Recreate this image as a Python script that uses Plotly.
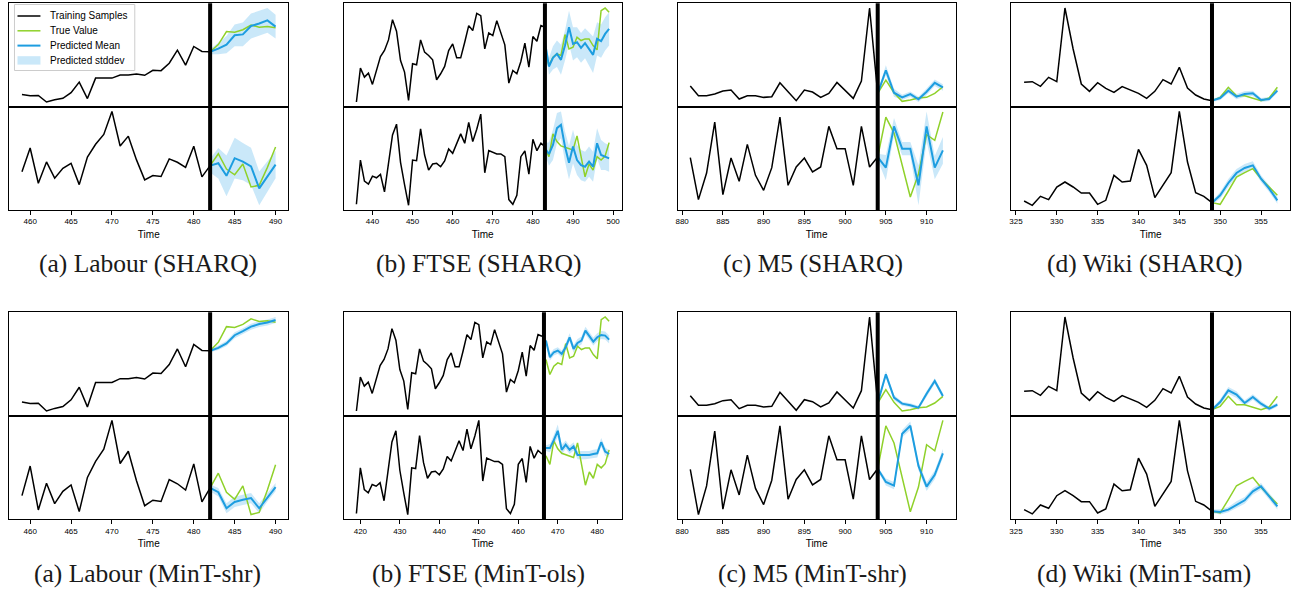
import plotly.graph_objects as go

# ---------------- data (arbitrary units) ----------------
# Labour
lab_t_train = list(range(459, 483))
lab_t_fc = list(range(482, 491))
lab_split = 482
lab_train_top = [49,45,46,25,32,37,55,89,36,102,102,102,112,112,115,111,127,126,150,192,144,204,188,187]
lab_train_bot = [127,197,93,156,108,137,152,89,170,208,237,305,203,232,162,103,116,113,165,155,140,202,112,145]
lab_true_top = [187,210,252,250,258,273,266,268,264]
lab_true_bot = [145,180,135,118,150,82,87,140,200]
lab_sharq_mean_top = [187,197,210,240,243,270,278,288,268]
lab_sharq_std_top = [8,18,28,35,38,40,40,40,38]
lab_sharq_mean_bot = [145,152,115,167,157,143,78,113,148]
lab_sharq_std_bot = [20,45,60,60,55,55,50,45,40]
lab_mint_mean_top = [187,195,207,229,240,252,259,263,270]
lab_mint_std_top = [4,6,7,8,8,8,8,8,8]
lab_mint_mean_bot = [145,135,97,112,117,121,97,123,147]
lab_mint_std_bot = [8,10,12,12,12,12,12,10,10]

# FTSE
ftse_sharq_t_train = list(range(436, 484))
ftse_sharq_t_fc = list(range(483, 500))
ftse_sharq_split = 483
ftse_mint_t_train = list(range(419, 467))
ftse_mint_t_fc = list(range(467, 484))
ftse_mint_split = 466.5
ftse_train_top = [25,127,100,112,78,117,162,180,212,273,238,150,115,30,140,137,212,175,165,152,
                  92,110,132,180,200,158,158,205,255,240,292,285,185,233,225,270,230,197,82,120,
                  110,147,202,130,222,208,255,250]
ftse_train_bot = [28,160,97,88,112,107,117,65,150,235,267,153,87,25,160,158,253,175,130,148,
                  150,140,157,193,180,210,238,210,272,215,252,297,122,188,183,178,178,170,42,28,
                  55,170,187,118,222,188,210,200]
ftse_true_top = [180,135,160,170,165,228,185,190,220,210,215,215,195,182,300,308,295]
ftse_true_bot = [195,170,238,215,202,198,195,190,232,170,110,148,130,170,160,172,212]
ftse_sharq_mean_top = [205,132,158,170,152,195,250,200,205,188,202,185,167,215,208,230,245]
ftse_sharq_std_top = [10,25,35,40,45,45,50,50,45,45,45,50,55,50,50,50,50]
ftse_sharq_mean_bot = [195,178,205,255,265,200,152,200,160,145,140,155,140,210,175,170,165]
ftse_sharq_std_bot = [15,35,45,45,40,45,50,50,45,45,45,45,45,45,45,40,40]
ftse_mint_mean_top = [237,187,202,207,197,217,247,212,230,237,267,250,234,247,254,252,240]
ftse_mint_std_top = [5,10,10,10,10,12,12,12,12,12,12,12,12,12,12,12,12]
ftse_mint_mean_bot = [217,217,240,267,212,227,212,222,197,197,197,197,200,202,234,207,200]
ftse_mint_std_bot = [8,12,15,18,15,12,12,12,12,12,12,12,12,12,12,12,10]

# M5
m5_t_train = list(range(881, 905))
m5_t_fc = list(range(904, 913))
m5_split = 904
m5_train_top = [72,43,43,48,57,60,33,43,43,38,40,82,55,28,60,54,38,50,83,60,35,87,308,50]
m5_train_bot = [168,42,122,275,57,167,97,208,115,70,138,290,85,140,167,125,140,262,195,195,85,262,140,170]
m5_true_top = [50,90,52,26,30,36,38,50,70]
m5_true_bot = [170,290,242,150,50,119,237,220,305]
m5_sharq_mean_top = [50,120,52,38,48,32,55,82,68]
m5_sharq_std_top = [5,15,12,8,8,8,10,10,10]
m5_sharq_mean_bot = [170,138,262,195,195,85,262,138,190]
m5_sharq_std_bot = [10,38,25,20,20,60,45,35,40]
m5_mint_mean_top = [50,136,66,48,43,36,78,116,71]
m5_mint_std_top = [5,10,8,6,6,6,8,8,8]
m5_mint_mean_bot = [170,133,123,268,290,178,120,153,213]
m5_mint_std_bot = [5,10,10,10,12,12,12,12,12]

# Wiki
wiki_t_train = list(range(326, 350))
wiki_t_fc = list(range(349, 358))
wiki_split = 349
wiki_train_top = [85,87,73,100,87,308,185,80,58,84,67,55,72,62,52,37,58,93,80,130,68,47,35,30]
wiki_train_bot = [38,25,52,42,80,95,80,62,62,28,40,115,95,98,193,145,48,87,123,307,155,63,52,33]
wiki_true_top = [30,40,70,45,45,38,30,38,70]
wiki_true_bot = [33,28,68,110,123,135,105,80,55]
wiki_sharq_mean_top = [30,38,60,42,50,52,32,35,60]
wiki_sharq_std_top = [4,6,8,8,8,8,6,6,6]
wiki_sharq_mean_bot = [33,55,92,122,137,145,105,75,40]
wiki_sharq_std_bot = [5,10,12,12,12,12,10,10,10]
wiki_mint_mean_top = [30,53,88,75,50,68,48,33,45]
wiki_mint_std_top = [4,8,10,10,8,8,8,6,6]
wiki_mint_mean_bot = [33,31,38,53,66,93,108,78,48]
wiki_mint_std_bot = [5,8,8,10,10,10,10,10,10]

captions = ["(a) Labour (SHARQ)", "(b) FTSE (SHARQ)", "(c) M5 (SHARQ)", "(d) Wiki (SHARQ)",
            "(a) Labour (MinT-shr)", "(b) FTSE (MinT-ols)", "(c) M5 (MinT-shr)", "(d) Wiki (MinT-sam)"]
legend_labels = ["Training Samples", "True Value", "Predicted Mean", "Predicted stddev"]
tick_steps = [5, 10, 5, 5]

# ---------------- panel assembly ----------------
panels = [
    dict(tt=lab_t_train, tf=lab_t_fc, split=lab_split,
         tr=(lab_train_top, lab_train_bot), tv=(lab_true_top, lab_true_bot),
         mu=(lab_sharq_mean_top, lab_sharq_mean_bot), sd=(lab_sharq_std_top, lab_sharq_std_bot)),
    dict(tt=ftse_sharq_t_train, tf=ftse_sharq_t_fc, split=ftse_sharq_split,
         tr=(ftse_train_top, ftse_train_bot), tv=(ftse_true_top, ftse_true_bot),
         mu=(ftse_sharq_mean_top, ftse_sharq_mean_bot), sd=(ftse_sharq_std_top, ftse_sharq_std_bot)),
    dict(tt=m5_t_train, tf=m5_t_fc, split=m5_split,
         tr=(m5_train_top, m5_train_bot), tv=(m5_true_top, m5_true_bot),
         mu=(m5_sharq_mean_top, m5_sharq_mean_bot), sd=(m5_sharq_std_top, m5_sharq_std_bot)),
    dict(tt=wiki_t_train, tf=wiki_t_fc, split=wiki_split,
         tr=(wiki_train_top, wiki_train_bot), tv=(wiki_true_top, wiki_true_bot),
         mu=(wiki_sharq_mean_top, wiki_sharq_mean_bot), sd=(wiki_sharq_std_top, wiki_sharq_std_bot)),
    dict(tt=lab_t_train, tf=lab_t_fc, split=lab_split,
         tr=(lab_train_top, lab_train_bot), tv=(lab_true_top, lab_true_bot),
         mu=(lab_mint_mean_top, lab_mint_mean_bot), sd=(lab_mint_std_top, lab_mint_std_bot)),
    dict(tt=ftse_mint_t_train, tf=ftse_mint_t_fc, split=ftse_mint_split,
         tr=(ftse_train_top, ftse_train_bot), tv=(ftse_true_top, ftse_true_bot),
         mu=(ftse_mint_mean_top, ftse_mint_mean_bot), sd=(ftse_mint_std_top, ftse_mint_std_bot)),
    dict(tt=m5_t_train, tf=m5_t_fc, split=m5_split,
         tr=(m5_train_top, m5_train_bot), tv=(m5_true_top, m5_true_bot),
         mu=(m5_mint_mean_top, m5_mint_mean_bot), sd=(m5_mint_std_top, m5_mint_std_bot)),
    dict(tt=wiki_t_train, tf=wiki_t_fc, split=wiki_split,
         tr=(wiki_train_top, wiki_train_bot), tv=(wiki_true_top, wiki_true_bot),
         mu=(wiki_mint_mean_top, wiki_mint_mean_bot), sd=(wiki_mint_std_top, wiki_mint_std_bot)),
]

W, H = 1300, 592
col_px = [(7.3, 286.7), (342.3, 620.7), (676.7, 955.0), (1011.0, 1290.0)]
row_px = [((3.3, 106.7), (106.7, 210.0)), ((312.3, 415.7), (415.7, 519.3))]
caption_x = [146, 477, 812, 1144]
caption_y = [263, 573]

GREEN = "#8fd12a"
BLUE = "#1d9de0"
BAND = "rgba(45,165,230,0.25)"

fig = go.Figure()
layout = dict(width=W, height=H, margin=dict(l=0, r=0, t=0, b=0),
              plot_bgcolor="white", paper_bgcolor="white", showlegend=False)
shapes = []
annotations = []


def px_x(v):
    return v / W


def px_y(v):
    return 1 - v / H


def pad_range(vals):
    lo, hi = min(vals), max(vals)
    d = (hi - lo) * 0.05
    return [lo - d, hi + d]


for p, P in enumerate(panels):
    r, c = divmod(p, 4)
    x0, x1 = col_px[c]
    xdom = [px_x(x0), px_x(x1)]
    xrng = pad_range(P["tt"] + P["tf"])
    for s in range(2):
        n = p * 2 + s + 1
        ya, yb = row_px[r][s]
        ydom = [px_y(yb), px_y(ya)]
        xs = "x" if n == 1 else f"x{n}"
        ys = "y" if n == 1 else f"y{n}"
        mu, sd = P["mu"][s], P["sd"][s]
        up = [m + e for m, e in zip(mu, sd)]
        lo = [m - e for m, e in zip(mu, sd)]
        fig.add_trace(go.Scatter(x=P["tf"] + P["tf"][::-1], y=up + lo[::-1], fill="toself",
                                 fillcolor=BAND, line=dict(width=0), mode="lines",
                                 name="Predicted stddev", xaxis=xs, yaxis=ys, hoverinfo="skip"))
        fig.add_trace(go.Scatter(x=P["tt"], y=P["tr"][s], mode="lines",
                                 line=dict(color="black", width=1.5),
                                 name="Training Samples", xaxis=xs, yaxis=ys))
        fig.add_trace(go.Scatter(x=P["tf"], y=P["tv"][s], mode="lines",
                                 line=dict(color=GREEN, width=1.5),
                                 name="True Value", xaxis=xs, yaxis=ys))
        fig.add_trace(go.Scatter(x=P["tf"], y=mu, mode="lines",
                                 line=dict(color=BLUE, width=2),
                                 name="Predicted Mean", xaxis=xs, yaxis=ys))
        yrng = pad_range(P["tr"][s] + P["tv"][s] + up + lo)
        xkey = "xaxis" if n == 1 else f"xaxis{n}"
        ykey = "yaxis" if n == 1 else f"yaxis{n}"
        bottom = (s == 1)
        xa = dict(domain=xdom, anchor=ys, range=xrng, showgrid=False, zeroline=False,
                  showline=True, mirror=True, linecolor="black", linewidth=1.3,
                  ticks="outside" if bottom else "", ticklen=3.5, tickwidth=1, tickcolor="black",
                  showticklabels=bottom, dtick=tick_steps[c], tick0=0,
                  tickfont=dict(family="Liberation Sans", size=8, color="black"))
        if bottom:
            xa["title"] = dict(text="Time", standoff=5,
                               font=dict(family="Liberation Sans", size=10, color="black"))
        else:
            xa["matches"] = f"x{n + 1}"
        ya_ = dict(domain=ydom, anchor=xs, range=yrng, showgrid=False, zeroline=False,
                   showline=True, mirror=True, linecolor="black", linewidth=1.3,
                   showticklabels=False, ticks="")
        layout[xkey] = xa
        layout[ykey] = ya_
    ntop = p * 2 + 1
    shapes.append(dict(type="line", xref=f"x{ntop + 1}", yref="paper",
                       x0=P["split"], x1=P["split"],
                       y0=px_y(row_px[r][1][1]), y1=px_y(row_px[r][0][0]),
                       line=dict(color="black", width=4), layer="above"))
    annotations.append(dict(text=captions[p], x=px_x(caption_x[c]), y=px_y(caption_y[r]),
                            xref="paper", yref="paper", showarrow=False,
                            xanchor="center", yanchor="middle",
                            font=dict(family="Liberation Serif", size=25.5, color="#1a1a1a")))

# ---------------- legend (drawn as a matplotlib-style boxed key) ----------------
leg_box = (12.5, 4.5, 133.0, 70.5)
leg_rows = [16.0, 30.8, 45.6, 60.4]
shapes.append(dict(type="rect", xref="paper", yref="paper",
                   x0=px_x(leg_box[0]), x1=px_x(leg_box[2]),
                   y0=px_y(leg_box[3]), y1=px_y(leg_box[1]),
                   fillcolor="rgba(255,255,255,0.85)", line=dict(color="#cccccc", width=1),
                   layer="above"))
key_styles = [("black", 1.5), (GREEN, 1.5), (BLUE, 2.0)]
for i, (col, wd) in enumerate(key_styles):
    shapes.append(dict(type="line", xref="paper", yref="paper",
                       x0=px_x(15.5), x1=px_x(38.5), y0=px_y(leg_rows[i]), y1=px_y(leg_rows[i]),
                       line=dict(color=col, width=wd), layer="above"))
shapes.append(dict(type="rect", xref="paper", yref="paper",
                   x0=px_x(15.5), x1=px_x(38.5),
                   y0=px_y(leg_rows[3] + 4.2), y1=px_y(leg_rows[3] - 4.2),
                   fillcolor=BAND, line=dict(width=0), layer="above"))
for i, lab in enumerate(legend_labels):
    annotations.append(dict(text=lab, x=px_x(46.5), y=px_y(leg_rows[i]), xref="paper", yref="paper",
                            showarrow=False, xanchor="left", yanchor="middle",
                            font=dict(family="Liberation Sans", size=10, color="black")))

layout["shapes"] = shapes
layout["annotations"] = annotations
fig.update_layout(**layout)
fig.write_html("out.html", config={"displayModeBar": False},
               post_script="document.body.style.margin='0';")
